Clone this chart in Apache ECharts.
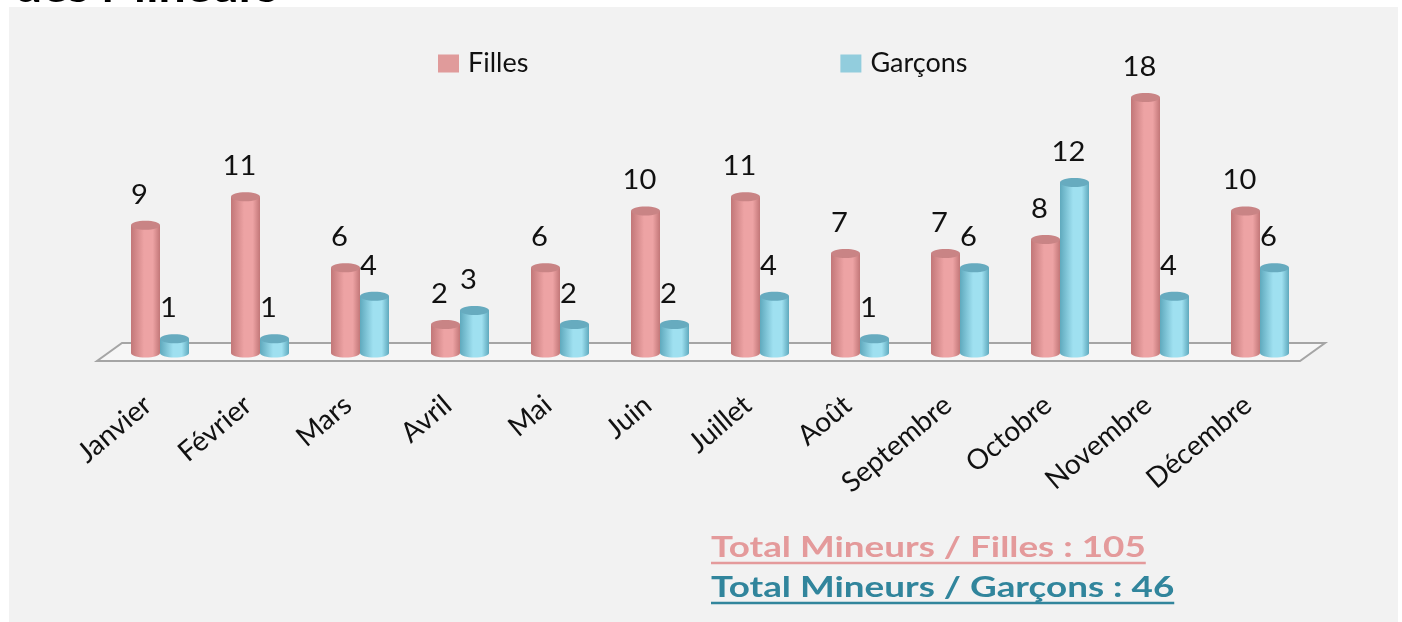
<!DOCTYPE html>
<html>
<head>
  <meta charset="utf-8" />
  <style>
    html, body { margin: 0; padding: 0; background: #ffffff; }
    #main { width: 1402px; height: 622px; }
  </style>
</head>
<body>
  <div id="main"></div>
  <script src="https://cdn.jsdelivr.net/npm/echarts@6/dist/echarts.min.js"></script>
  <script>
    // mois
    var mois = ["Janvier", "Février", "Mars", "Avril", "Mai", "Juin", "Juillet",
      "Août", "Septembre", "Octobre", "Novembre", "Décembre"];
    // mineurs par mois
    var filles = [9, 11, 6, 2, 6, 10, 11, 7, 7, 8, 18, 10];
    var garcons = [1, 1, 4, 3, 2, 2, 4, 1, 6, 12, 4, 6];
    var totalFilles = 105;
    var totalGarcons = 46;

    var FONT = "Lato, 'Noto Sans', sans-serif";
    var BAR_W = 29;
    var ETIRE = 1.27; // le texte de l'original est élargi

    // couleurs du cylindre : bord, centre, dessus
    var rose = { edge: "#c27778", mid: "#eda3a4", top: "#c98485", legend: "#e09b9b" };
    var bleu = { edge: "#5fa9bd", mid: "#9fe0f0", top: "#67abbf", legend: "#92cddd" };

    function cylindre(c, offset) {
      return function (params, api) {
        var idx = api.value(0);
        var val = api.value(1);
        var base = api.coord([idx, 0]);
        var top = api.coord([idx, val]);
        var cx = base[0] + offset;
        var ry = 4.5;
        var grad = new echarts.graphic.LinearGradient(0, 0, 1, 0, [
          { offset: 0, color: c.edge },
          { offset: 0.45, color: c.mid },
          { offset: 0.75, color: c.mid },
          { offset: 1, color: c.edge }
        ]);
        return {
          type: "group",
          children: [
            {
              type: "ellipse",
              shape: { cx: cx, cy: base[1], rx: BAR_W / 2, ry: ry },
              style: { fill: grad }
            },
            {
              type: "rect",
              shape: { x: cx - BAR_W / 2, y: top[1], width: BAR_W, height: base[1] - top[1] },
              style: { fill: grad }
            },
            {
              type: "ellipse",
              shape: { cx: cx, cy: top[1], rx: BAR_W / 2, ry: ry },
              style: { fill: c.top }
            },
            {
              type: "text",
              x: cx - 6,
              y: top[1] - 30,
              scaleX: 1.12,
              style: {
                text: String(val),
                fill: "#111",
                font: "26px " + FONT,
                align: "center",
                verticalAlign: "middle"
              }
            }
          ]
        };
      };
    }

    var myChart = echarts.init(document.getElementById("main"));

    var option = {
      backgroundColor: "#ffffff",
      animation: false,
      grid: { left: 110, width: 1200, top: 69, height: 284 },
      legend: {
        top: 45,
        left: 433,
        itemGap: 312,
        itemWidth: 21,
        itemHeight: 18,
        icon: "rect",
        textStyle: { fontSize: 27, color: "#111", fontFamily: FONT, padding: [0, 0, 0, 4] },
        data: [
          { name: "Filles", itemStyle: { color: rose.legend } },
          { name: "Garçons", itemStyle: { color: bleu.legend } }
        ]
      },
      xAxis: {
        type: "category",
        data: mois,
        axisLine: { show: false },
        axisTick: { show: false },
        axisLabel: {
          rotate: 40,
          margin: 38,
          padding: [0, 16, 0, 0],
          fontSize: 28,
          color: "#111",
          fontFamily: FONT,
          interval: 0
        }
      },
      yAxis: {
        type: "value",
        min: 0,
        max: 20,
        show: false,
        splitLine: { show: false }
      },
      series: [
        {
          name: "Filles",
          type: "custom",
          z: 5,
          itemStyle: { color: rose.legend },
          renderItem: cylindre(rose, -14.5),
          data: filles.map(function (v, i) { return [i, v]; })
        },
        {
          name: "Garçons",
          type: "custom",
          z: 5,
          itemStyle: { color: bleu.legend },
          renderItem: cylindre(bleu, 14.5),
          data: garcons.map(function (v, i) { return [i, v]; })
        }
      ]
    };
    myChart.setOption(option);

    // largeur du texte pour le soulignement
    function largeur(txt, font) {
      var ctx = document.createElement("canvas").getContext("2d");
      ctx.font = font;
      return ctx.measureText(txt).width;
    }

    // sol 3D et fond gris, calés sur la grille
    var gauche = myChart.convertToPixel({ xAxisIndex: 0 }, 0) - 50;
    var droite = myChart.convertToPixel({ xAxisIndex: 0 }, mois.length - 1) + 50;
    var zero = myChart.convertToPixel({ yAxisIndex: 0 }, 0);

    var txtF = "Total Mineurs / Filles : " + totalFilles;
    var txtG = "Total Mineurs / Garçons : " + totalGarcons;
    var fontTot = "bold 29px " + FONT;
    var wF = largeur(txtF, fontTot) * ETIRE;
    var wG = largeur(txtG, fontTot) * ETIRE;

    myChart.setOption({
      graphic: [
        {
          type: "rect",
          z: -10,
          shape: { x: 9, y: 7, width: 1389, height: 620 },
          style: { fill: "#f2f2f2" }
        },
        {
          type: "text",
          z: -5,
          x: 278,
          y: 9,
          scaleX: 1.15,
          style: {
            text: "des Mineurs",
            font: "bold 42px " + FONT,
            fill: "#000",
            align: "right",
            verticalAlign: "bottom"
          }
        },
        {
          type: "polygon",
          z: 0,
          shape: {
            points: [
              [gauche + 12, zero - 10],
              [droite + 15, zero - 10],
              [droite - 10, zero + 8],
              [gauche - 13, zero + 8]
            ]
          },
          style: { fill: "#f6f6f6", stroke: "#a5a5a5", lineWidth: 2 }
        },
        {
          type: "text",
          x: 711,
          y: 548,
          scaleX: ETIRE,
          style: { text: txtF, font: fontTot, fill: "#e49a9b", verticalAlign: "middle" }
        },
        {
          type: "line",
          shape: { x1: 711, y1: 563, x2: 711 + wF, y2: 563 },
          style: { stroke: "#e49a9b", lineWidth: 2.5 }
        },
        {
          type: "text",
          x: 711,
          y: 588,
          scaleX: ETIRE,
          style: { text: txtG, font: fontTot, fill: "#31859c", verticalAlign: "middle" }
        },
        {
          type: "line",
          shape: { x1: 711, y1: 603, x2: 711 + wG, y2: 603 },
          style: { stroke: "#31859c", lineWidth: 2.5 }
        }
      ]
    });
  </script>
</body>
</html>
